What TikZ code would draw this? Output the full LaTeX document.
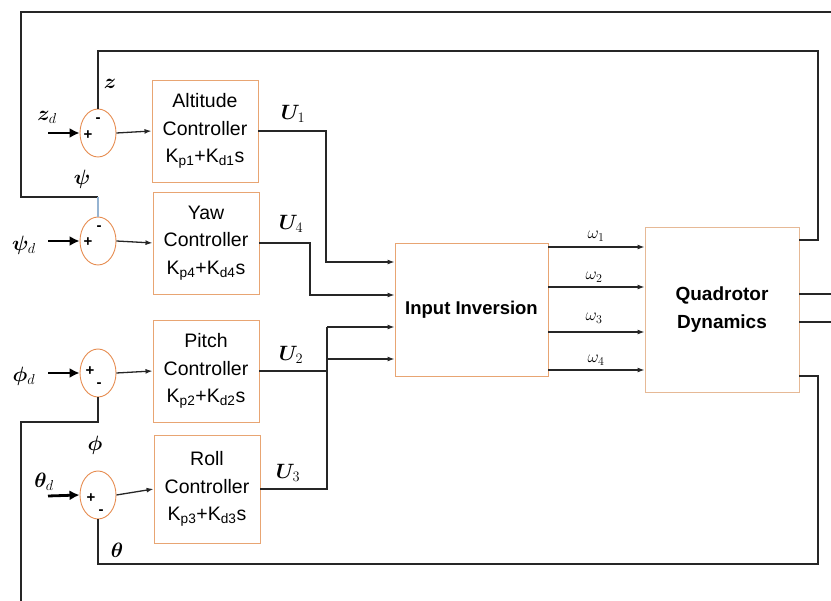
\documentclass[tikz,border=0pt]{standalone}
\usepackage{fontspec}
\setmainfont{Liberation Sans}
\usepackage{amsmath}
\usepackage{bm}
\usetikzlibrary{shapes.geometric,arrows.meta}
\definecolor{boxc}{RGB}{232,165,115}
\definecolor{quadc}{RGB}{230,185,150}
\definecolor{sumcol}{RGB}{230,140,80}
\definecolor{fbblue}{RGB}{150,180,210}
\begin{document}
\begin{tikzpicture}[x=1pt,y=-1pt,
  ctrl/.style={draw=boxc, line width=0.9pt, minimum width=106pt, minimum height=102pt,
    align=center, inner sep=0pt, font=\fontsize{19.5}{27.5}\selectfont},
  sumc/.style={ellipse, draw=sumcol, line width=0.9pt, minimum width=36pt, minimum height=48pt, inner sep=0pt},
  wire/.style={line width=1.3pt, draw=black!85},
  arr/.style={wire, -{Latex[length=7pt,width=5pt]}},
  inarr/.style={line width=2.8pt, -{Latex[length=10pt,width=10pt]}},
  lbl/.style={font=\fontsize{21}{21}\selectfont, inner sep=0pt},
  sgn/.style={font=\bfseries\fontsize{15}{15}\selectfont, inner sep=0pt},
  om/.style={font=\fontsize{17}{17}\selectfont, inner sep=0pt}]
\useasboundingbox (0,0) rectangle (831,601);

% summing junctions
\node[sumc] (s1) at (98,133) {};
\node[sumc] (s2) at (98,241) {};
\node[sumc] (s3) at (98,373) {};
\node[sumc] (s4) at (98,495) {};

% controllers
\node[ctrl] (b1) at (205,131) {Altitude\\Controller\\K\textsubscript{p1}+K\textsubscript{d1}s};
\node[ctrl] (b2) at (206,243) {Yaw\\Controller\\K\textsubscript{p4}+K\textsubscript{d4}s};
\node[ctrl] (b3) at (206,371) {Pitch\\Controller\\K\textsubscript{p2}+K\textsubscript{d2}s};
\node[ctrl, minimum height=108pt] (b4) at (207,489) {Roll\\Controller\\K\textsubscript{p3}+K\textsubscript{d3}s};

% main blocks
\node[draw=boxc, line width=0.9pt, minimum width=153pt, minimum height=133pt, inner sep=0pt,
  font=\bfseries\fontsize{18.5}{27}\selectfont] (inv) at (471.5,309.5) {Input Inversion};
\node[draw=quadc, line width=0.9pt, minimum width=154pt, minimum height=165pt, inner sep=0pt, align=center,
  font=\bfseries\fontsize{19}{28}\selectfont] (quad) at (722,309.5) {Quadrotor\\Dynamics};

% signs
\node[sgn] (p1) at (88,135) {+};
\node[sgn] (m1) at (98,120) {-};
\node[sgn] (p2) at (88,242) {+};
\node[sgn] (m2) at (99,228) {-};
\node[sgn] (p3) at (90,371) {+};
\node[sgn] (m3) at (99,385) {-};
\node[sgn] (p4) at (91,498) {+};
\node[sgn] (m4) at (101,512) {-};

% references
\coordinate (r1) at (48,133);
\coordinate (r2) at (48,241);
\coordinate (r3) at (48,373);
\coordinate (r4) at (48,496);
\draw[inarr] (r1) -- (s1.west);
\draw[inarr] (r2) -- (s2.west);
\draw[inarr] (r3) -- (s3.west);
\draw[inarr] (r4) -- (s4.west);

\node[lbl] (lzd) at (47,117) {$\bm{z}_{d}$};
\node[lbl] (lpsid) at (24,245) {$\bm{\psi}_{d}$};
\node[lbl] (lphid) at (24,376) {$\bm{\phi}_{d}$};
\node[lbl] (lthd) at (44,482) {$\bm{\theta}_{d}$};

% sum -> controller
\draw[arr] (s1.east) -- (b1.west);
\draw[arr] (s2.east) -- (b2.west);
\draw[arr] (s3.east) -- (b3.west);
\draw[arr] (s4.east) -- (b4.west);

% controller outputs
\coordinate (c1) at (326,131);
\coordinate (c1b) at (326,262);
\draw[arr] (b1.east) -- (c1) -- (c1b) -- (inv.west |- c1b);
\coordinate (c2) at (310,243);
\coordinate (c2b) at (310,295);
\draw[arr] (b2.east) -- (c2) -- (c2b) -- (inv.west |- c2b);
\coordinate (ja) at (327,327);
\coordinate (jb) at (327,359);
\coordinate (jc) at (327,371);
\coordinate (jd) at (327,489);
\draw[wire] (b3.east) -- (jc);
\draw[wire] (b4.east) -- (jd) -- (ja);
\draw[arr] (ja) -- (inv.west |- ja);
\draw[arr] (jb) -- (inv.west |- jb);

\node[lbl] (lu1) at (293,114) {$\bm{U}_{1}$};
\node[lbl] (lu4) at (291,224) {$\bm{U}_{4}$};
\node[lbl] (lu2) at (291,355) {$\bm{U}_{2}$};
\node[lbl] (lu3) at (288,473) {$\bm{U}_{3}$};

% omegas
\coordinate (w1) at (548,247);
\coordinate (w2) at (548,287);
\coordinate (w3) at (548,332);
\coordinate (w4) at (548,370);
\draw[arr] (w1) -- (quad.west |- w1);
\draw[arr] (w2) -- (quad.west |- w2);
\draw[arr] (w3) -- (quad.west |- w3);
\draw[arr] (w4) -- (quad.west |- w4);
\node[om] (lw1) at (596,236) {$\omega_1$};
\node[om] (lw2) at (594,277) {$\omega_2$};
\node[om] (lw3) at (594,318) {$\omega_3$};
\node[om] (lw4) at (596,360) {$\omega_4$};

% feedback z
\coordinate (fz1) at (818,240);
\coordinate (fz2) at (818,51);
\coordinate (fz3) at (98,51);
\draw[wire] (quad.east |- fz1) -- (fz1) -- (fz2) -- (fz3) -- (s1.north);
\node[lbl] (lz) at (110,84) {$\bm{z}$};

% feedback psi
\coordinate (fp0) at (831,12);
\coordinate (fp1) at (21,12);
\coordinate (fp2) at (21,197);
\coordinate (fp3) at (98,197);
\draw[wire] (fp0) -- (fp1) -- (fp2) -- (fp3);
\draw[line width=1.1pt, fbblue] (fp3) -- (s2.north);
\node[lbl] (lpsi) at (82,179) {$\bm{\psi}$};

% feedback phi
\coordinate (fh0) at (21,601);
\coordinate (fh1) at (21,422);
\coordinate (fh2) at (98,422);
\draw[wire] (fh0) -- (fh1) -- (fh2) -- (s3.south);
\node[lbl] (lphi) at (95,445) {$\bm{\phi}$};

% feedback theta
\coordinate (ft1) at (818,376);
\coordinate (ft2) at (818,564);
\coordinate (ft3) at (98,564);
\draw[wire] (quad.east |- ft1) -- (ft1) -- (ft2) -- (ft3) -- (s4.south);
\node[lbl] (lth) at (117,550) {$\bm{\theta}$};

% outputs
\coordinate (o1) at (831,294);
\coordinate (o2) at (831,322);
\draw[wire] (quad.east |- o1) -- (o1);
\draw[wire] (quad.east |- o2) -- (o2);
\end{tikzpicture}
\end{document}
